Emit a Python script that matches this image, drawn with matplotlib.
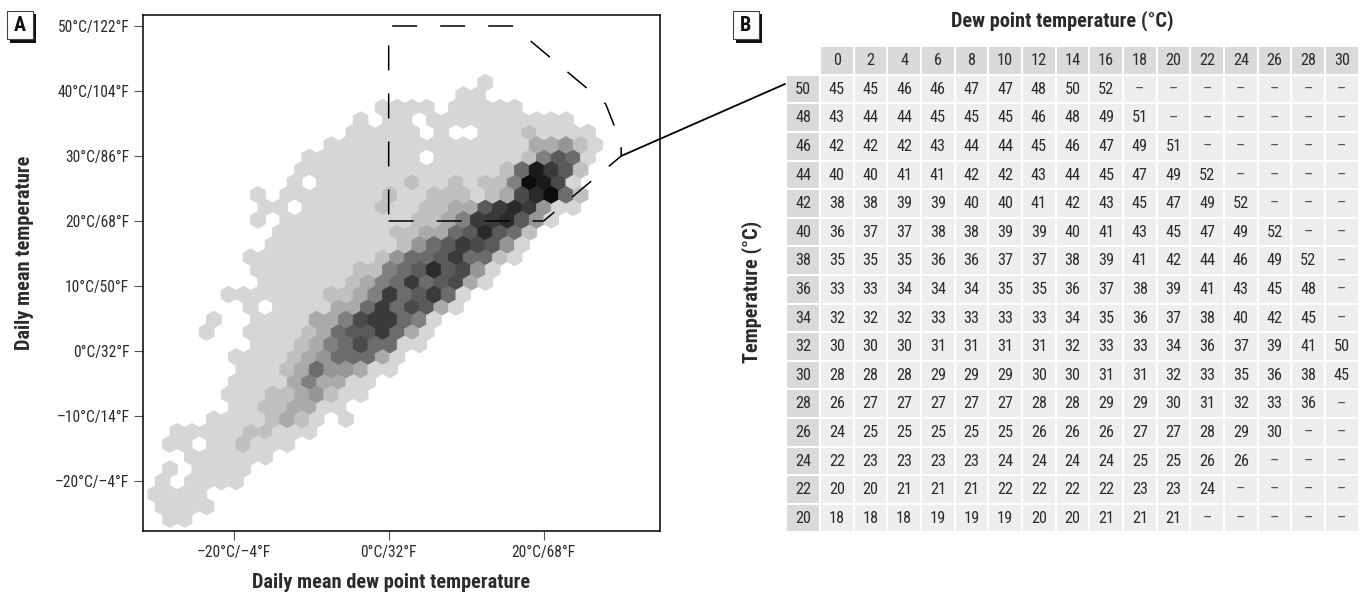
import matplotlib
matplotlib.use('Agg')
import matplotlib.pyplot as plt
import numpy as np
from matplotlib.colors import ListedColormap
from matplotlib.patches import Rectangle

# Panel A: hexagon shade per row, top row first. 0 = empty cell, a/b/c = 10/11/12
row_starts = [46, 43, 32, 29, 28, 25, 22, 21, 20, 15, 16, 15, 18, 17, 14, 15, 16, 11,
              14, 9, 8, 15, 12, 13, 12, 11, 12, 9, 4, 3, 6, 3, 2, 1, 2, 3]
row_shades = [
    "1",
    "11",
    "1111011111",
    "101101111111111",
    "11111010011121111",
    "1111111111111133421",
    "11111111011111125761",
    "111111111111112" "6b972",
    "10111111211212" "25cb81",
    "101111111211222123" "8ac62",
    "1101111121122" "3379a9411",
    "101111111112235" "99a741",
    "11111111" "2233" "67a762",
    "111111111" "246798741",
    "111111111" "24" "667966" "21",
    "1111111" "225" "67a7841",
    "111111" "2356967831",
    "1111111" "2235967961",
    "101111" "336968731",
    "1001111" "335899651",
    "1001111" "236779631",
    "111" "235686611",
    "1111" "23466631",
    "111" "23644311",
    "1111" "353311",
    "111" "2234211",
    "11" "223311",
    "1111" "232101",
    "11111" "22" "111",
    "11011" "2" "111",
    "111111",
    "101111",
    "101111",
    "1111",
    "1111",
    "11",
]
shade_grays = ['#d6d6d6', '#c0c0c0', '#aaaaaa', '#969696', '#808080', '#6c6c6c',
               '#5a5a5a', '#4a4a4a', '#3a3a3a', '#2a2a2a', '#1a1a1a', '#0c0c0c']

# Dashed outline of panel A, dew point / temperature
region_dew = [0, 20, 30, 30, 28, 26, 16, 0, 0]
region_temp = [20, 20, 30, 32, 38, 40, 50, 50, 20]

x_ticks = [-20, 0, 20]
x_ticklabels = ['–20°C/–4°F', '0°C/32°F', '20°C/68°F']
y_ticks = [50, 40, 30, 20, 10, 0, -10, -20]
y_ticklabels = ['50°C/122°F', '40°C/104°F', '30°C/86°F', '20°C/68°F',
                '10°C/50°F', '0°C/32°F', '–10°C/14°F', '–20°C/–4°F']

# Panel B
dew_points = [0, 2, 4, 6, 8, 10, 12, 14, 16, 18, 20, 22, 24, 26, 28, 30]
temperatures = [50, 48, 46, 44, 42, 40, 38, 36, 34, 32, 30, 28, 26, 24, 22, 20]
table_rows = [
    [45, 45, 46, 46, 47, 47, 48, 50, 52],
    [43, 44, 44, 45, 45, 45, 46, 48, 49, 51],
    [42, 42, 42, 43, 44, 44, 45, 46, 47, 49, 51],
    [40, 40, 41, 41, 42, 42, 43, 44, 45, 47, 49, 52],
    [38, 38, 39, 39, 40, 40, 41, 42, 43, 45, 47, 49, 52],
    [36, 37, 37, 38, 38, 39, 39, 40, 41, 43, 45, 47, 49, 52],
    [35, 35, 35, 36, 36, 37, 37, 38, 39, 41, 42, 44, 46, 49, 52],
    [33, 33, 34, 34, 34, 35, 35, 36, 37, 38, 39, 41, 43, 45, 48],
    [32, 32, 32, 33, 33, 33, 33, 34, 35, 36, 37, 38, 40, 42, 45],
    [30, 30, 30, 31, 31, 31, 31, 32, 33, 33, 34, 36, 37, 39, 41, 50],
    [28, 28, 28, 29, 29, 29, 30, 30, 31, 31, 32, 33, 35, 36, 38, 45],
    [26, 27, 27, 27, 27, 27, 28, 28, 29, 29, 30, 31, 32, 33, 36],
    [24, 25, 25, 25, 25, 25, 26, 26, 26, 27, 27, 28, 29, 30],
    [22, 23, 23, 23, 23, 24, 24, 24, 24, 25, 25, 26, 26],
    [20, 20, 21, 21, 21, 22, 22, 22, 22, 23, 23, 24],
    [18, 18, 18, 19, 19, 19, 20, 20, 21, 21, 21],
]

W, H = 1367, 595
plt.rcParams['font.family'] = ['Roboto Condensed', 'IBM Plex Sans Condensed', 'Liberation Sans', 'DejaVu Sans']
plt.rcParams['lines.scale_dashes'] = False
text_color = '#2b2b2b'

fig = plt.figure(figsize=(W / 100, H / 100), dpi=100, facecolor='white')


def axes_px(left, top, right, bottom):
    return fig.add_axes([left / W, 1 - bottom / H, (right - left) / W, (bottom - top) / H])


def text_px(x, y, s, **kw):
    kw.setdefault('ha', 'center')
    kw.setdefault('va', 'center')
    kw.setdefault('color', text_color)
    fig.text(x / W, 1 - y / H, s, **kw)


def badge(left, top, letter):
    fig.add_artist(Rectangle(((left + 3) / W, 1 - (top + 32) / H), 26 / W, 29 / H,
                             transform=fig.transFigure, fc='#111111', ec='none'))
    fig.add_artist(Rectangle((left / W, 1 - (top + 28.6) / H), 25.7 / W, 28.6 / H,
                             transform=fig.transFigure, fc='white', ec='#444444', lw=0.8))
    text_px(left + 12.8, top + 14.5, letter, fontsize=14.5, fontweight='bold', color='#111111')


# Panel A
ax = axes_px(143.3, 15, 659.7, 531.3)
hex_dx = 1.8925
hex_dy = 1.918
hex_x0 = -31.06
hex_y0 = 41.28
hx, hy, hc = [], [], []
for k, (start, shades) in enumerate(zip(row_starts, row_shades)):
    for j, s in enumerate(shades):
        if s == '0':
            continue
        hx.append(hex_x0 + (start + 2 * j) * hex_dx / 2)
        hy.append(hex_y0 - k * hex_dy)
        hc.append(int(s, 16))

nx, ny = 31, 18
y_base = hex_y0 - 36 * hex_dy
ax.hexbin(hx, hy, C=hc, gridsize=(nx, ny),
          extent=(hex_x0, hex_x0 + nx * hex_dx, y_base, y_base + ny * 2 * hex_dy),
          reduce_C_function=np.mean, cmap=ListedColormap(shade_grays), vmin=0.5, vmax=12.5,
          edgecolors='face', linewidths=0.7)

ax.plot(region_dew, region_temp, color='black', lw=1.1, ls=(0, (18, 16.56)), dash_capstyle='butt')
ax.set_xlim(-31.66, 34.97)
ax.set_ylim(-27.74, 51.69)
ax.set_xticks(x_ticks)
ax.set_xticklabels(x_ticklabels)
ax.set_yticks(y_ticks)
ax.set_yticklabels(y_ticklabels)
ax.tick_params(length=6.5, width=0.8, color='#555555', labelsize=11.2, labelcolor=text_color, pad=3.5)
for sp in ax.spines.values():
    sp.set_linewidth(1.1)

text_px(251.7, 583, 'Daily mean dew point temperature', fontsize=14.7, fontweight='bold', ha='left')
text_px(24.5, 252.5, 'Daily mean temperature', fontsize=14.7, fontweight='bold', rotation=90)
badge(7.3, 10.7, 'A')
badge(733, 10.7, 'B')

# Panel B
tx = axes_px(786.4, 46.4, 1358.7, 532.6)
tx.set_xlim(-1, 16)
tx.set_ylim(16, -1)
tx.axis('off')
for c, dew in enumerate(dew_points):
    tx.add_patch(Rectangle((c + 0.03, -0.97), 0.94, 0.93, fc='#d9dadc', ec='none'))
    tx.text(c + 0.5, -0.49, str(dew), ha='center', va='center', fontsize=11.7, color=text_color)
for r, temp in enumerate(temperatures):
    tx.add_patch(Rectangle((-0.97, r + 0.03), 0.94, 0.93, fc='#d9dadc', ec='none'))
    tx.text(-0.5, r + 0.5, str(temp), ha='center', va='center', fontsize=11.7, color=text_color)
    for c in range(len(dew_points)):
        tx.add_patch(Rectangle((c + 0.03, r + 0.03), 0.94, 0.93, fc='#eeeeee', ec='none'))
        if c < len(table_rows[r]):
            tx.text(c + 0.5, r + 0.5, str(table_rows[r][c]), ha='center', va='center',
                    fontsize=11.7, color=text_color)
        else:
            tx.text(c + 0.5, r + 0.5, '–', ha='center', va='center', fontsize=11.7, color='#555555')

text_px(1062, 20.5, 'Dew point temperature (°C)', fontsize=14.7, fontweight='bold')
text_px(752, 292, 'Temperature (°C)', fontsize=14.7, fontweight='bold', rotation=90)

# Line from the outline to the first table row
ax.annotate('', xy=(785, H - 84), xycoords='figure pixels', xytext=(30, 30), textcoords='data',
            arrowprops=dict(arrowstyle='-', color='black', lw=1.3, shrinkA=0, shrinkB=0))

fig.savefig('out.png', dpi=100)
